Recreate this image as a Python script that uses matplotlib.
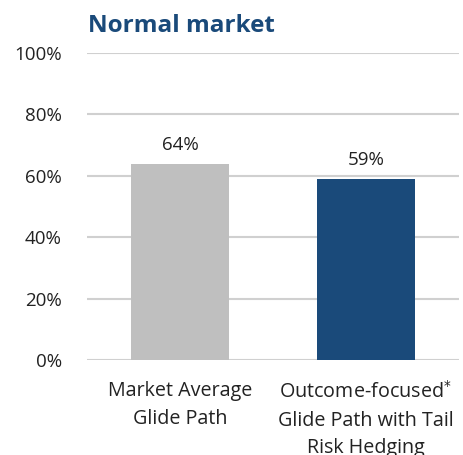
import matplotlib
matplotlib.use("Agg")
import matplotlib.pyplot as plt
from matplotlib.ticker import FuncFormatter

categories = ["Market Average\nGlide Path", "Outcome-focused$^{*}$\nGlide Path with Tail\nRisk Hedging"]
values = [64, 59]
colors = ["#bfbfbf", "#1a4a7a"]
yticks = [0, 20, 40, 60, 80, 100]
title = "Normal market"

plt.rcParams['font.family'] = ['Open Sans', 'DejaVu Sans']

fig = plt.figure(figsize=(4.64, 4.55), dpi=100)
ax = fig.add_axes([0.1875, 0.2088, 0.8015, 0.6747])

x = list(range(len(categories)))
bars = ax.bar(x, values, width=0.53, color=colors, zorder=3)
for xi, v in zip(x, values):
    ax.text(xi, v + 3.2, f"{v}%", ha="center", va="bottom", fontsize=13.5, color="#222222")

ax.set_xlim(-0.5, 1.5)
ax.set_ylim(0, 100)
ax.set_yticks(yticks)
ax.yaxis.set_major_formatter(FuncFormatter(lambda v, p: f"{int(v)}%"))
ax.grid(axis="y", color="#d0d0d0", linewidth=1.5, zorder=0)
for s in ax.spines.values():
    s.set_visible(False)
ax.tick_params(axis="y", length=0, labelsize=13.5, colors="#222222", pad=18)
ax.tick_params(axis="x", length=0, labelsize=14.2, colors="#222222", pad=15)
ax.set_xticks(x)
ax.set_xticklabels(categories, linespacing=1.52)

fig.text(0.19, 0.942, title, fontsize=17.5, fontweight="bold", color="#1a4a7a", ha="left", va="center")

fig.savefig("out.png", dpi=100)
